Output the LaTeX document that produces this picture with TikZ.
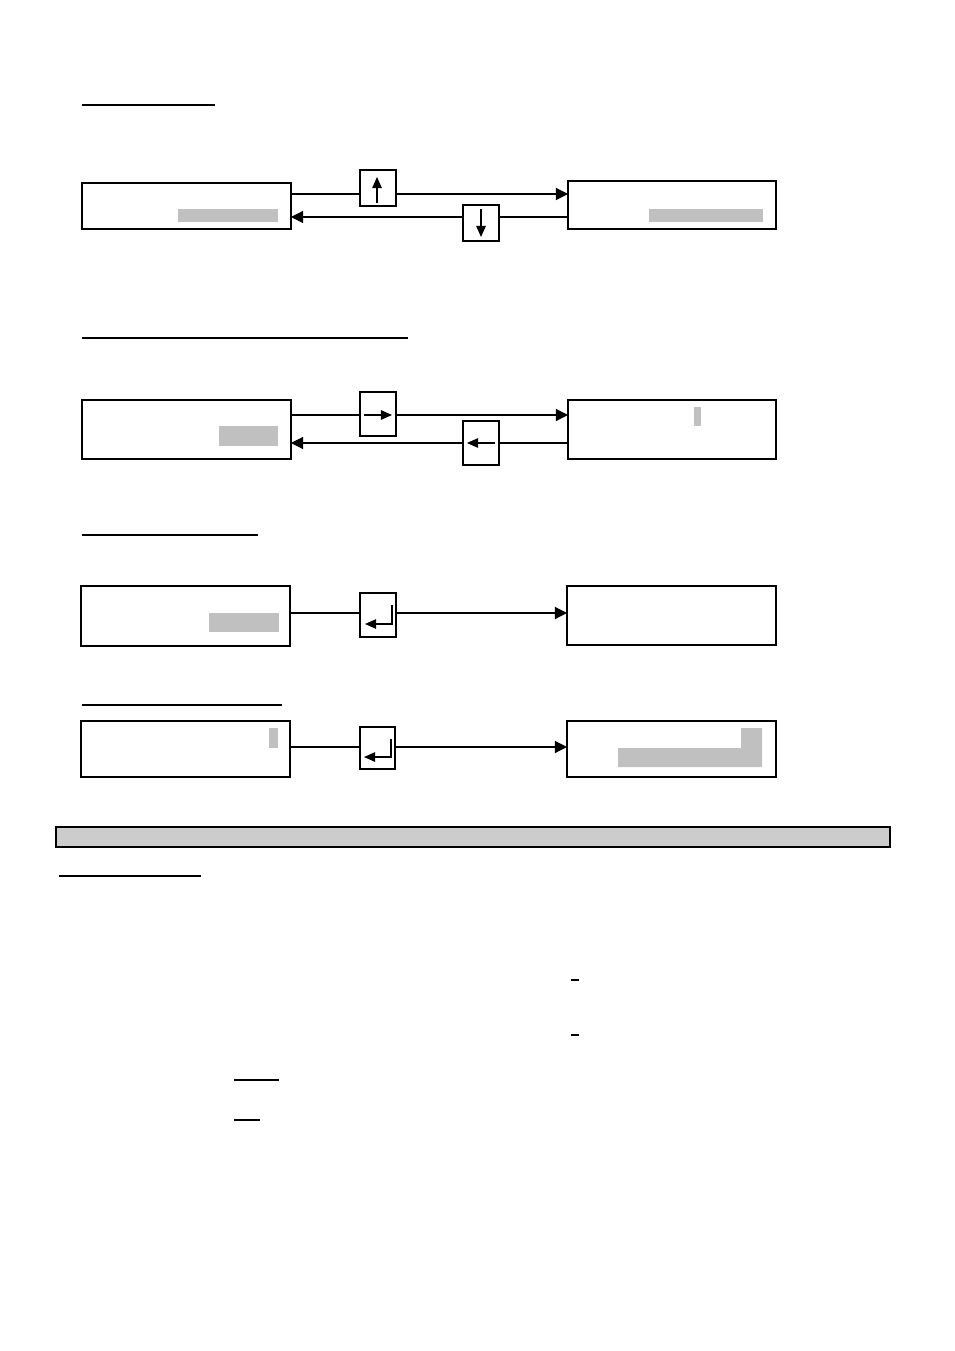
\documentclass[tikz,border=0pt]{standalone}
\usepackage{tikz}
\usetikzlibrary{arrows.meta}
\definecolor{silver}{RGB}{192,192,192}
\definecolor{lightsilver}{RGB}{204,204,204}
\newcommand{\pxu}{0.624pt}

\begin{document}
\begin{tikzpicture}[x=\pxu, y=-\pxu, line width=0.7pt,
    dims/.style 2 args={minimum width=#1*\pxu, minimum height=#2*\pxu},
    screen/.style={draw, inner sep=0pt, outer sep=0pt},
    keybox/.style={draw, fill=white, inner sep=0pt, outer sep=0pt},
    link/.style={-{Triangle[length=7.5pt,width=7.5pt]}},
    keyarrow/.style={-{Triangle[length=7pt,width=6pt]}},
    rule/.style={line width=0.8pt}]
            \useasboundingbox (0,0) rectangle (954,1351);
            % headings
            \draw[rule] ( 82, 105) -- (215, 105);
            \draw[rule] ( 82, 338) -- (408, 338);
            \draw[rule] ( 82, 535) -- (258, 535);
            \draw[rule] ( 82, 705) -- (282, 705);
            % up / down
            \node[screen, dims={209}{46}] (scrA) at (186.5, 206) {};
            \node[screen, dims={208}{48}] (scrB) at (672.0, 205) {};
            \fill[silver] (178, 209) rectangle (278, 222);
            \fill[silver] (649, 209) rectangle (763, 222);
            \node[keybox, dims={36}{36}] (keyUp) at (378, 188) {};
            \node[keybox, dims={36}{36}] (keyDn) at (481, 223) {};
            \draw       (scrA.east |- 0,194) -- (keyUp.west |- 0,194);
            \draw[link] (keyUp.east |- 0,194) -- (scrB.west |- 0,194);
            \draw       (scrB.west |- 0,217) -- (keyDn.east |- 0,217);
            \draw[link] (keyDn.west |- 0,217) -- (scrA.east |- 0,217);
            \draw[keyarrow] (377, 203) -- (377, 177);
            \draw[keyarrow] (481, 209) -- (481, 237);
            % right / left
            \node[screen, dims={209}{59}] (scrC) at (186.5, 429.5) {};
            \node[screen, dims={208}{59}] (scrD) at (672.0, 429.5) {};
            \fill[silver] (219, 426) rectangle (278, 446);
            \fill[silver] (694, 407) rectangle (701, 426);
            \node[keybox, dims={36}{44}] (keyRt) at (378, 414) {};
            \node[keybox, dims={36}{44}] (keyLt) at (481, 443) {};
            \draw       (scrC.east |- 0,415) -- (keyRt.west |- 0,415);
            \draw[link] (keyRt.east |- 0,415) -- (scrD.west |- 0,415);
            \draw       (scrD.west |- 0,443) -- (keyLt.east |- 0,443);
            \draw[link] (keyLt.west |- 0,443) -- (scrC.east |- 0,443);
            \draw[keyarrow] (364, 415) -- (392, 415);
            \draw[keyarrow] (495, 443) -- (467, 443);
            % enter
            \node[screen, dims={209}{60}] (scrE) at (185.5, 616) {};
            \node[screen, dims={209}{59}] (scrF) at (671.5, 615.5) {};
            \fill[silver] (209, 613) rectangle (279, 632);
            \node[keybox, dims={36}{44}] (keyEnA) at (378, 615) {};
            \draw       (scrE.east |- 0,613) -- (keyEnA.west |- 0,613);
            \draw[link] (keyEnA.east |- 0,613) -- (scrF.west |- 0,613);
            \draw[keyarrow] (392, 605) -- (392, 624) -- (365, 624);
            % enter again
            \node[screen, dims={209}{56}] (scrG) at (185.5, 749) {};
            \node[screen, dims={209}{56}] (scrH) at (671.5, 749) {};
            \fill[silver] (269, 728) rectangle (278, 748);
            \fill[silver] (741, 728) -- (762, 728) -- (762, 767) -- (618, 767) -- (618, 748) -- (741, 748) -- cycle;
            \node[keybox, dims={35}{42}] (keyEnB) at (377.5, 748) {};
            \draw       (scrG.east |- 0,747) -- (keyEnB.west |- 0,747);
            \draw[link] (keyEnB.east |- 0,747) -- (scrH.west |- 0,747);
            \draw[keyarrow] (391, 739) -- (391, 757) -- (364, 757);
            % lower part
            \filldraw[fill=lightsilver, line width=1pt] (56, 827) rectangle (890, 847);
            \draw[rule] ( 59, 876) -- (201, 876);
            \draw[line width=1.2pt] (571, 980) -- (579, 980);
            \draw[line width=1.2pt] (571,1035) -- (579,1035);
            \draw[rule] (234,1080) -- (279,1080);
            \draw[rule] (234,1120) -- (260,1120);
\end{tikzpicture}
\end{document}
